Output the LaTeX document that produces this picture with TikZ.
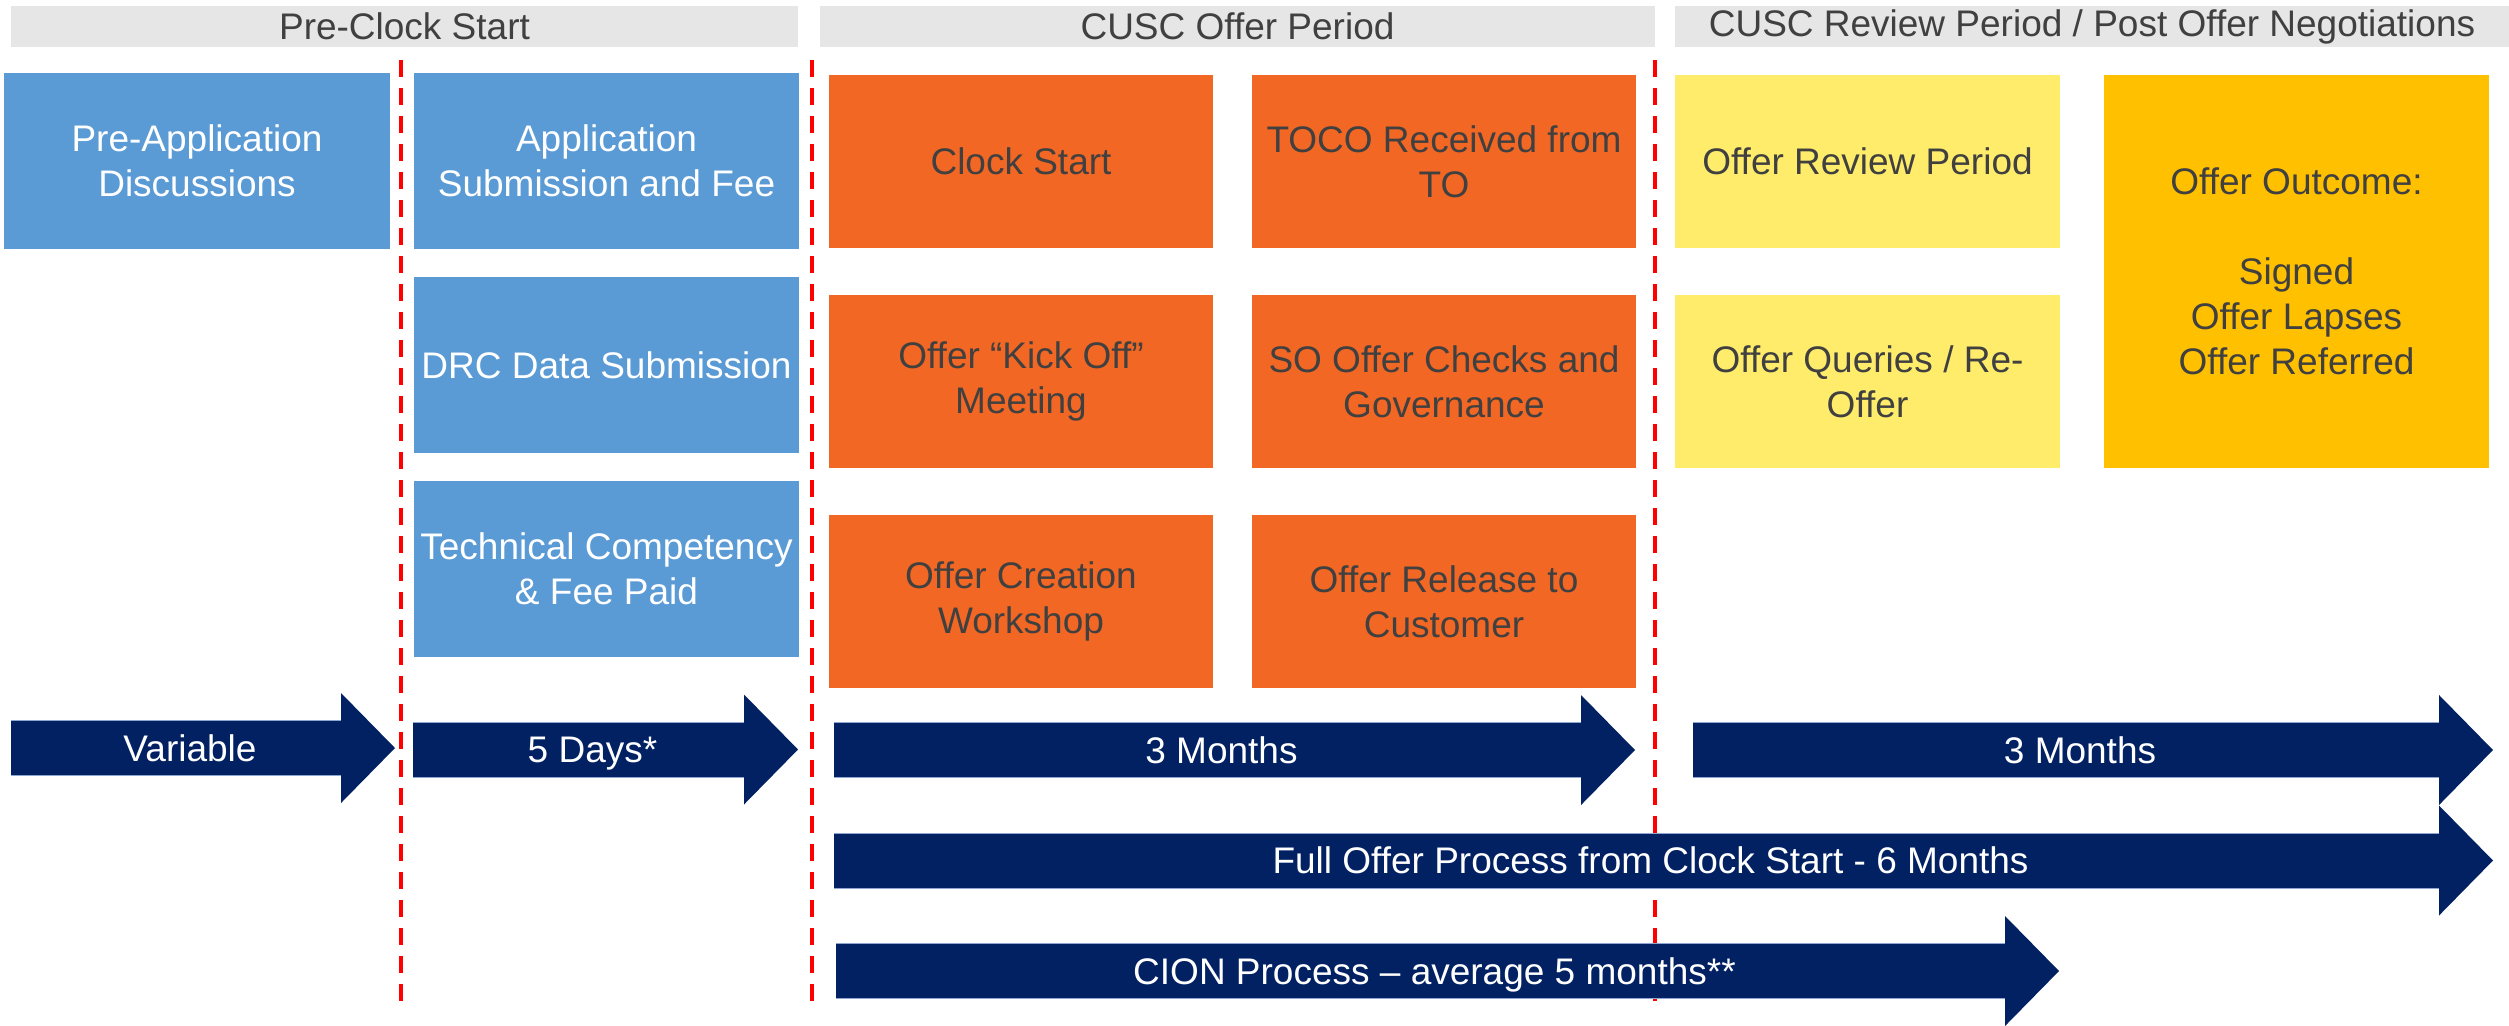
\documentclass[tikz,border=0pt]{standalone}
\usepackage{fontspec}
\setmainfont{Liberation Sans}
\definecolor{hdrgray}{HTML}{E6E6E6}
\definecolor{txtgray}{HTML}{404040}
\definecolor{blueb}{HTML}{5B9BD5}
\definecolor{orangeb}{HTML}{F26724}
\definecolor{yellowb}{HTML}{FFEC6B}
\definecolor{goldb}{HTML}{FFC000}
\definecolor{navy}{HTML}{022163}
\definecolor{navyedge}{HTML}{8EA6D0}
\definecolor{dashred}{HTML}{FF0000}
\newcommand\bx[7]{\node[#6, minimum width={(#4-#2)*0.5pt}, minimum height={(#5-#3)*0.5pt}] (#1) at ({(#2+#4)/2},{(#3+#5)/2}) {#7};}
\newcommand\tlarrow[5]{%
  \fill[navy] (#2,#4-27.5) -- (#3-54,#4-27.5) -- (#3-54,#4-55) -- (#3,#4) -- (#3-54,#4+55) -- (#3-54,#4+27.5) -- (#2,#4+27.5) -- cycle;
  \draw[navyedge, line width=0.5pt] (#2,#4-27.5) -- (#3-54,#4-27.5) (#2,#4+27.5) -- (#3-54,#4+27.5);
  \node[arrowtext] (#1) at ({(#2+#3)/2-13},#4) {#5};
}
\begin{document}
\begin{tikzpicture}[x=0.5pt,y=-0.5pt,
  basebox/.style={inner sep=0pt, outer sep=0pt, align=center, font=\fontsize{18.5}{22.5}\selectfont},
  header/.style={basebox, fill=hdrgray, text=txtgray},
  bluebox/.style={basebox, fill=blueb, text=white},
  orangebox/.style={basebox, fill=orangeb, text=txtgray},
  yellowbox/.style={basebox, fill=yellowb, text=txtgray},
  goldbox/.style={basebox, fill=goldb, text=txtgray},
  arrowtext/.style={inner sep=0pt, text=white, align=center, text height=13.3pt, text depth=0pt, font=\fontsize{18.5}{22.5}\selectfont},
  reddash/.style={draw=dashred, line width=2pt, dash pattern=on 8.5pt off 5.5pt}]
\useasboundingbox (0,0) rectangle (2509,1025);

% headers
\bx{h1}{11}{6}{798}{47}{header}{Pre-Clock Start}
\bx{h2}{820}{6}{1655}{47}{header}{CUSC Offer Period}
\bx{h3}{1675}{6}{2509}{47}{header}{CUSC Review Period / Post Offer Negotiations}

% blue boxes
\bx{preapp}{4}{73}{390}{249}{bluebox}{Pre-Application\\Discussions}
\bx{appsub}{414}{73}{799}{249}{bluebox}{Application\\Submission and Fee}
\bx{drc}{414}{277}{799}{453}{bluebox}{DRC Data Submission}
\bx{tech}{414}{481}{799}{657}{bluebox}{Technical Competency\\\& Fee Paid}

% orange boxes
\bx{clock}{829}{75}{1213}{248}{orangebox}{Clock Start}
\bx{toco}{1252}{75}{1636}{248}{orangebox}{TOCO Received from\\TO}
\bx{kick}{829}{295}{1213}{468}{orangebox}{Offer “Kick Off”\\Meeting}
\bx{sochk}{1252}{295}{1636}{468}{orangebox}{SO Offer Checks and\\Governance}
\bx{create}{829}{515}{1213}{688}{orangebox}{Offer Creation\\Workshop}
\bx{release}{1252}{515}{1636}{688}{orangebox}{Offer Release to\\Customer}

% yellow / gold boxes
\bx{review}{1675}{75}{2060}{248}{yellowbox}{Offer Review Period}
\bx{queries}{1675}{295}{2060}{468}{yellowbox}{Offer Queries / Re-\\Offer}
\bx{outcome}{2104}{75}{2489}{468}{goldbox}{Offer Outcome:\\[22.5pt]Signed\\Offer Lapses\\Offer Referred}

% dashed separators
\draw[reddash] (401,60) -- (401,1005);
\draw[reddash] (812,60) -- (812,1005);
\draw[reddash] (1655,60) -- (1655,1005);

% time arrows
\tlarrow{avar}{11}{395}{748}{Variable}
\tlarrow{adays}{413}{798}{749.5}{5 Days*}
\tlarrow{am1}{834}{1635}{750}{3 Months}
\tlarrow{am2}{1693}{2493}{750}{3 Months}
\tlarrow{afull}{834}{2493}{860.5}{Full Offer Process from Clock Start - 6 Months}
\tlarrow{acion}{836}{2059}{971}{CION Process – average 5 months**}
\end{tikzpicture}
\end{document}
